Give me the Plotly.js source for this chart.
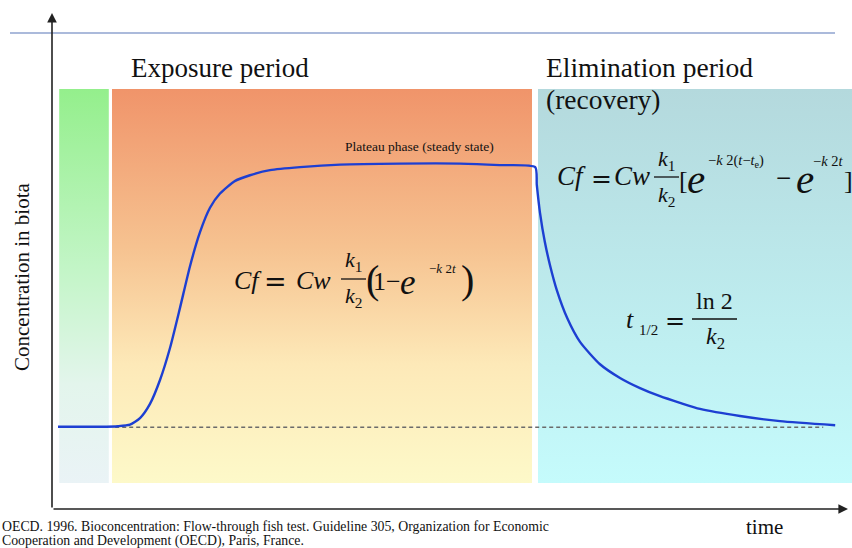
<!DOCTYPE html>
<html>
<head>
<meta charset="utf-8">
<script src="https://cdn.plot.ly/plotly-3.0.1.min.js"></script>
<style>html,body{margin:0;padding:0;background:#fff;}#chart{width:852px;height:548px;}</style>
</head>
<body>
<div id="chart"></div>
<script>
// ---- data (time in arbitrary units, concentration in arbitrary units) ----
const timeValues = [0.75, 3.5, 6, 8.25, 9.75, 11, 12.25, 13.5, 14.75, 16, 17.25, 18.5, 19.75, 21, 22.9, 24.75, 27.25, 31, 36, 43.5, 51, 56, 60.4,
  60.6, 61, 61.6, 62.25, 63.1, 64.4, 66, 68.5, 71, 73.5, 76, 78.5, 81, 86, 91, 97.9];
const concentrationValues = [16.0, 16.0, 16.0, 16.1, 16.4, 17.7, 20.5, 25.2, 31.5, 39.4, 47.6, 54.3, 59.1, 61.9, 64.4, 65.5, 66.5, 67.1, 67.6, 67.8, 67.8, 67.5, 67.1,
  63.6, 58.1, 52.4, 47.8, 42.9, 37.4, 32.7, 28.3, 25.6, 23.6, 22.0, 20.7, 19.5, 18.1, 17.1, 16.3];
const baselineTimes = [7.9, 96.4];
const baselineLevel = 15.9;
const phaseNames = ["pre-exposure", "Exposure period", "Elimination period"];
const phaseStart = [0.9, 7.5, 60.75];
const phaseEnd = [7.1, 60.0, 100];
const panelTop = 82.5, panelBottom = 4.9;

// ---- layout helpers (pixel -> paper) ----
const ML = 52, MB = 40, PW = 800, PH = 508;
const PX = x => (x - ML) / PW;
const PY = y => (PH - y) / PH;
const SERIF = "Liberation Serif, Times New Roman, serif";
const SYM = "DejaVu Serif, serif";

const panelColors = [
  [[0, '#eaf3f6'], [0.25, '#e3f5ec'], [0.55, '#c2f5c6'], [1, '#94ef8c']],
  [[0, '#fdf9c9'], [0.3, '#fde9b8'], [0.6, '#f6c290'], [1, '#f0946a']],
  [[0, '#c5fbfc'], [1, '#b4d9dd']]
];

const traces = [];
phaseNames.forEach((name, i) => {
  traces.push({
    type: 'scatter', mode: 'lines', name: name,
    x: [phaseStart[i], phaseEnd[i], phaseEnd[i], phaseStart[i], phaseStart[i]],
    y: [panelBottom, panelBottom, panelTop, panelTop, panelBottom],
    fill: 'toself', line: {width: 0},
    fillgradient: {type: 'vertical', colorscale: panelColors[i]},
    hoverinfo: 'skip', showlegend: false
  });
});
traces.push({
  type: 'scatter', mode: 'lines', x: baselineTimes, y: [baselineLevel, baselineLevel],
  line: {color: '#6b6b6b', width: 1.4, dash: '4px,3px'}, hoverinfo: 'skip', showlegend: false
});
traces.push({
  type: 'scatter', mode: 'lines', x: timeValues, y: concentrationValues,
  line: {color: '#1d3fd2', width: 2.4, shape: 'spline', smoothing: 0.6}, hoverinfo: 'skip', showlegend: false
});

const ann = [];
function T(x, y, text, size, o) {
  o = o || {};
  const fam = o.family || SERIF;
  delete o.family;
  ann.push(Object.assign({
    xref: 'paper', yref: 'paper', x: PX(x), y: PY(y), text: text, showarrow: false,
    xanchor: 'left', yanchor: 'middle', font: {family: fam, size: size, color: '#111'}
  }, o));
}
// phase titles
T(129, 68, 'Exposure period', 27);
T(544, 68, 'Elimination period', 27.5);
T(544, 99, '(recovery)', 27.5);
T(419, 146, 'Plateau phase (steady state)', 13.5, {xanchor: 'center'});
// axis titles
T(22, 277, 'Concentration in biota', 21, {xanchor: 'center', textangle: -90});
T(764, 527, 'time', 21, {xanchor: 'center'});
// caption
T(0, 526, 'OECD. 1996. Bioconcentration: Flow-through fish test. Guideline 305, Organization for Economic', 13.8);
T(0, 541, 'Cooperation and Development (OECD), Paris, France.', 13.8);

// formula 1 : uptake
T(232, 280, '<i>Cf</i>', 26);
T(262, 281, '=', 27, {family: SYM});
T(294, 280, '<i>Cw</i>', 26);
T(353, 261, '<i>k</i><sub>1</sub>', 22, {xanchor: 'center'});
T(353, 297, '<i>k</i><sub>2</sub>', 22, {xanchor: 'center'});
T(364, 279, '(', 40);
T(371, 281, '1−', 26);
T(398, 282, '<i>e</i>', 35);
T(427, 268, '−<i>k</i> 2<i>t</i>', 13);
T(459, 279, ')', 40);
// formula 2 : elimination
T(555, 176, '<i>Cf</i>', 27);
T(589, 178, '=', 25, {family: SYM});
T(612, 176, '<i>Cw</i>', 27);
T(666, 160, '<i>k</i><sub>1</sub>', 22, {xanchor: 'center'});
T(666, 196, '<i>k</i><sub>2</sub>', 22, {xanchor: 'center'});
T(677, 180, '[', 26);
T(685, 179, '<i>e</i>', 41);
T(706, 161, '−<i>k</i> 2(<i>t</i>−<i>t</i><sub>e</sub>)', 14.5);
T(774, 178, '−', 27);
T(794, 179, '<i>e</i>', 41);
T(811, 161, '−<i>k</i> 2<i>t</i>', 14.5);
T(842, 180, ']', 26);
// formula 3 : half-life
T(624, 319, '<i>t</i>', 26);
T(637, 330, '1/2', 15);
T(663, 321, '=', 24, {family: SYM});
T(714, 301, 'ln 2', 24, {xanchor: 'center'});
T(715, 338, '<i>k</i><sub>2</sub>', 24, {xanchor: 'center'});

// axis arrows
ann.push({xref: 'paper', yref: 'paper', x: PX(52), y: PY(13), ax: 0, ay: 496, text: '', showarrow: true,
  arrowhead: 2, arrowsize: 1.2, arrowwidth: 1.6, arrowcolor: '#222'});
ann.push({xref: 'paper', yref: 'paper', x: PX(848), y: PY(509), ax: -796, ay: 0, text: '', showarrow: true,
  arrowhead: 2, arrowsize: 1.2, arrowwidth: 1.6, arrowcolor: '#222'});

const shapes = [
  {type: 'line', xref: 'paper', yref: 'paper', x0: PX(10), x1: PX(835), y0: PY(33), y1: PY(33), line: {color: '#8fa3cf', width: 1.5}},
  {type: 'line', xref: 'paper', yref: 'paper', x0: PX(341), x1: PX(366), y0: PY(279), y1: PY(279), line: {color: '#111', width: 1.3}},
  {type: 'line', xref: 'paper', yref: 'paper', x0: PX(654), x1: PX(679), y0: PY(177), y1: PY(177), line: {color: '#111', width: 1.3}},
  {type: 'line', xref: 'paper', yref: 'paper', x0: PX(692), x1: PX(737), y0: PY(319), y1: PY(319), line: {color: '#111', width: 1.3}}
];

const layout = {
  width: 852, height: 548,
  margin: {l: ML, r: 0, t: 0, b: MB},
  paper_bgcolor: '#fff', plot_bgcolor: '#fff',
  xaxis: {range: [0, 100], visible: false, fixedrange: true},
  yaxis: {range: [0, 100], visible: false, fixedrange: true},
  showlegend: false, hovermode: false,
  annotations: ann, shapes: shapes
};
Plotly.newPlot('chart', traces, layout, {displayModeBar: false, staticPlot: true});
</script>
</body>
</html>
